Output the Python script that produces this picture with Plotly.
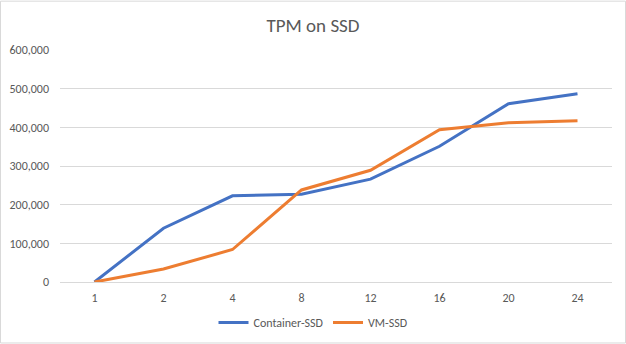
import plotly.graph_objects as go

# Thread counts (category axis) and transactions per minute
threads = ["1", "2", "4", "8", "12", "16", "20", "24"]
container_ssd = [0, 139000, 223000, 227000, 266000, 351000, 461000, 487000]
vm_ssd = [0, 33500, 84000, 238000, 289000, 394000, 412000, 417000]

y_ticks = [0, 100000, 200000, 300000, 400000, 500000, 600000]

FONT = "Carlito, Calibri, Lato, sans-serif"
GRAY_TEXT = "#595959"
GRID = "#d9d9d9"

fig = go.Figure()
fig.add_trace(go.Scatter(
    x=threads, y=container_ssd, name="Container-SSD", mode="lines",
    line=dict(color="#4472C4", width=3),
))
fig.add_trace(go.Scatter(
    x=threads, y=vm_ssd, name="VM-SSD", mode="lines",
    line=dict(color="#ED7D31", width=3),
))

W, H = 626, 344
ml, mr, mt, mb = 60, 14, 49.5, 61.7
pw, ph = W - ml - mr, H - mt - mb

# outer chart border
fig.add_shape(
    type="rect", xref="paper", yref="paper",
    x0=(0.5 - ml) / pw, x1=(W - 0.5 - ml) / pw,
    y0=(H - mb - (H - 0.5)) / ph, y1=(H - mb - 0.5) / ph,
    line=dict(color=GRID, width=1), fillcolor="rgba(0,0,0,0)", layer="below",
)

fig.update_layout(
    width=W, height=H,
    margin=dict(l=ml, r=mr, t=mt, b=mb, autoexpand=False),
    paper_bgcolor="white", plot_bgcolor="white",
    font=dict(family=FONT, size=12, color=GRAY_TEXT),
    title=dict(text="TPM on SSD", x=(313 - ml) / pw, xref="paper", xanchor="center",
               y=1 - 25 / H, yanchor="middle",
               font=dict(family=FONT, size=19, color=GRAY_TEXT)),
    showlegend=True,
    legend=dict(orientation="h", x=(313 - ml) / pw, xanchor="center",
                y=(H - mb - 323) / ph, yanchor="middle",
                font=dict(family=FONT, size=12, color=GRAY_TEXT),
                itemwidth=30, bgcolor="rgba(0,0,0,0)"),
    xaxis=dict(
        type="category", range=[-0.5, len(threads) - 0.5],
        showgrid=False, zeroline=False,
        showline=True, linecolor=GRID, linewidth=1,
        ticks="", ticklabelstandoff=5,
        tickfont=dict(family=FONT, size=12, color=GRAY_TEXT),
    ),
    yaxis=dict(
        range=[0, 600000], tickvals=y_ticks,
        tickformat=",d",
        showgrid=True, gridcolor=GRID, gridwidth=1,
        zeroline=False, showline=False,
        ticks="", ticklabelstandoff=10,
        tickfont=dict(family=FONT, size=12, color=GRAY_TEXT),
    ),
)

fig.write_html("out.html")
